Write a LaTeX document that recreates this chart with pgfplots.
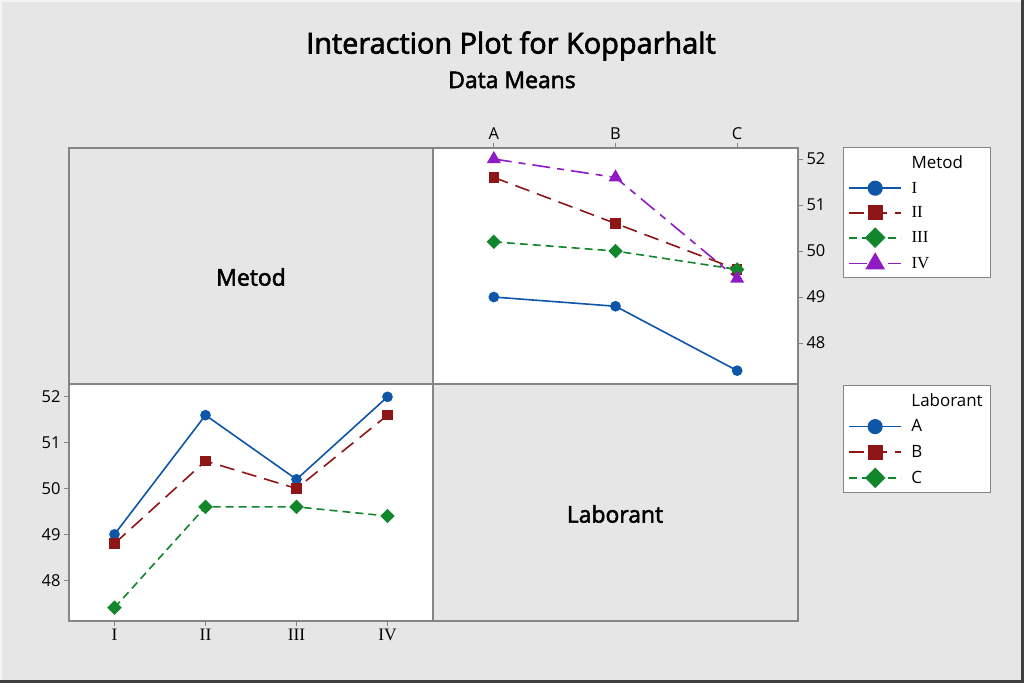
\documentclass[border=0pt]{standalone}
\usepackage{pgfplots}
\pgfplotsset{compat=1.18}
\usepackage{fontspec}
\setmainfont{Open Sans}
\newfontfamily\romfont{Liberation Serif}
\newfontfamily\semib[FakeBold=2.3]{Open Sans}

\definecolor{bgc}{HTML}{E6E6E6}
\definecolor{frm}{HTML}{858585}
\definecolor{cI}{HTML}{0E56A8}
\definecolor{cII}{HTML}{8E1616}
\definecolor{cIII}{HTML}{12862A}
\definecolor{cIV}{HTML}{8E1CC2}

\newlength\lw
\settowidth{\lw}{\fontsize{17}{20}\selectfont Laborant}

\pgfplotsset{
  panel/.style={
    scale only axis,
    axis background/.style={fill=white},
    axis line style={frm, line width=1.5bp},
    tick style={frm, line width=1bp},
    major tick length=5bp,
    tick align=outside,
    ticklabel style={font=\fontsize{16.5}{19}\selectfont, text=black},
    /pgf/number format/assume math mode=true,
    ytick={48,49,50,51,52},
    clip=false,
    legend cell align=left,
    legend style={draw=frm, line width=1bp, fill=white,
      font=\fontsize{17}{20}\selectfont, anchor=north west,
      inner xsep=5bp, inner ysep=5.5bp, row sep=7bp, column sep=7bp,
      nodes={inner sep=2.5bp}},
    legend image code/.code={
      \draw[mark repeat=2, mark phase=2, ##1, every mark/.append style={scale=1.5}]
        plot coordinates {(0bp,0bp) (26bp,0bp) (52bp,0bp)};},
  },
  sI/.style={cI, line width=1.6bp, mark=*, mark size=4.5bp, mark options={solid}},
  sII/.style={cII, line width=1.6bp, dash pattern=on 15bp off 8bp,
    mark=square*, mark size=4.5bp, mark options={solid}},
  sIII/.style={cIII, line width=1.6bp, dash pattern=on 8bp off 5bp,
    mark=square*, mark size=4.3bp, mark options={solid, rotate=45}},
  sIV/.style={cIV, line width=1.6bp, dash pattern=on 18bp off 7bp on 7bp off 7bp,
    mark=triangle*, mark size=6.5bp, mark options={solid}},
}

\begin{document}
\begin{tikzpicture}
% background and frame edges
\fill[bgc] (0bp,0bp) rectangle (1024bp,683bp);
\draw[white!60!bgc, line width=2bp] (1bp,0bp) -- (1bp,682bp) -- (1024bp,682bp);
\draw[black!75, line width=3bp] (1022.5bp,683bp) -- (1022.5bp,1.5bp) -- (0bp,1.5bp);

% titles
\node[font=\semib\fontsize{29}{34}\selectfont] at (511bp,637bp) {Interaction Plot for Kopparhalt};
\node[font=\semib\fontsize{23}{27}\selectfont] at (512bp,603bp) {Data Means};

% label panels
\draw[frm, line width=1.5bp] (69bp,299bp) rectangle (433bp,535bp);
\draw[frm, line width=1.5bp] (433bp,62bp) rectangle (798bp,299bp);
\node[font=\semib\fontsize{23}{27}\selectfont] at (251bp,406bp) {Metod};
\node[font=\semib\fontsize{23}{27}\selectfont] at (615bp,169bp) {Laborant};

% top right: Metod lines over Laborant
\begin{axis}[panel,
  at={(433bp,535bp)}, anchor=north west,
  width=365bp, height=236bp,
  xmin=0.5, xmax=3.5, ymin=47.11, ymax=52.24,
  xtick={1,2,3}, xticklabels={A,B,C},
  xtick pos=right, xticklabel pos=right,
  ytick pos=right, yticklabel pos=right,
  legend style={at={(1.123,1.004)}},
]
\addlegendimage{empty legend}
\addlegendentry{\makebox[\lw][l]{Metod}\hspace{15bp}}
\addplot[sI] coordinates {(1,49.0) (2,48.8) (3,47.4)};
\addlegendentry{\romfont I}
\addplot[sII] coordinates {(1,51.6) (2,50.6) (3,49.6)};
\addlegendentry{\romfont II}
\addplot[sIII] coordinates {(1,50.2) (2,50.0) (3,49.6)};
\addlegendentry{\romfont III}
\addplot[sIV] coordinates {(1,52.0) (2,51.6) (3,49.4)};
\addlegendentry{\romfont IV}
\end{axis}

% bottom left: Laborant lines over Metod
\begin{axis}[panel,
  at={(69bp,299bp)}, anchor=north west,
  width=364bp, height=237bp,
  xmin=0.5, xmax=4.5, ymin=47.11, ymax=52.28,
  xtick={1,2,3,4}, xticklabels={I,II,III,IV},
  xticklabel style={font=\romfont\fontsize{17.5}{20}\selectfont},
  xtick pos=left, ytick pos=left,
  legend style={at={(2.126,0.996)}},
]
\addlegendimage{empty legend}
\addlegendentry{Laborant\hspace{15bp}}
\addplot[sI] coordinates {(1,49.0) (2,51.6) (3,50.2) (4,52.0)};
\addlegendentry{A}
\addplot[sII] coordinates {(1,48.8) (2,50.6) (3,50.0) (4,51.6)};
\addlegendentry{B}
\addplot[sIII] coordinates {(1,47.4) (2,49.6) (3,49.6) (4,49.4)};
\addlegendentry{C}
\end{axis}

\pgfresetboundingbox
\path (0bp,0bp) rectangle (1024bp,683bp);
\end{tikzpicture}
\end{document}
